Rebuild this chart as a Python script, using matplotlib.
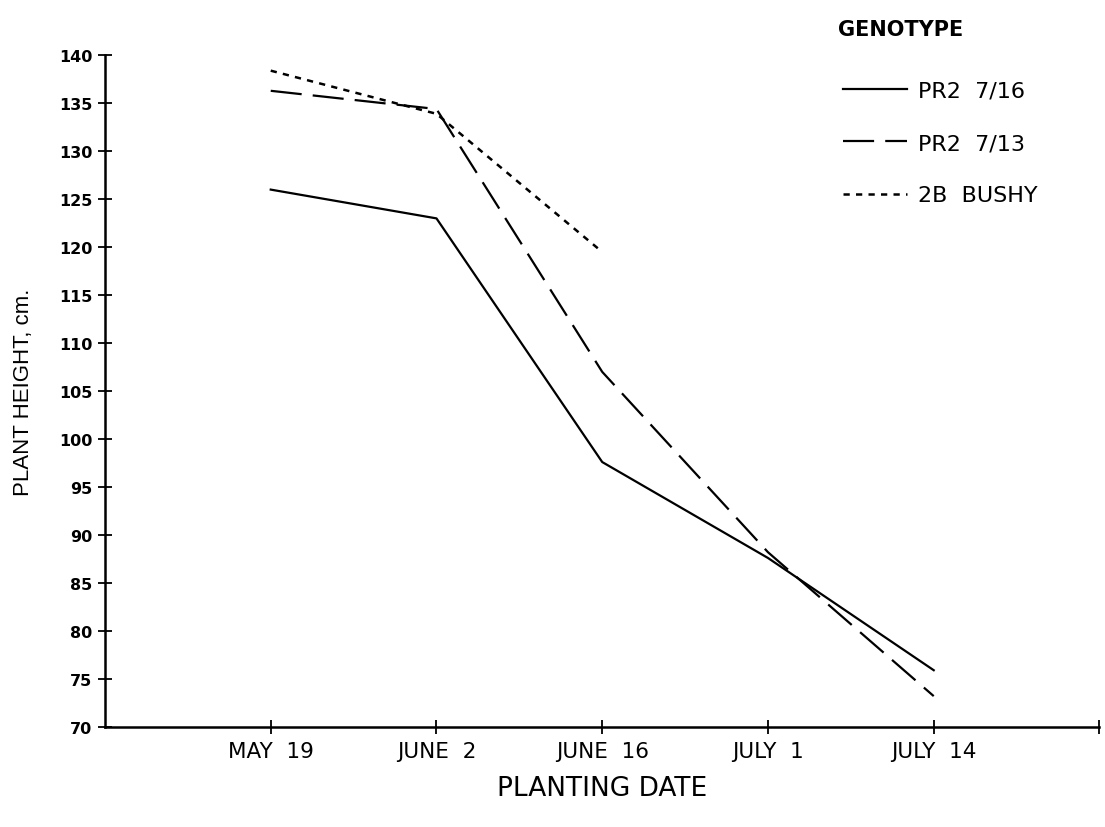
import matplotlib
matplotlib.use('Agg')
import matplotlib.pyplot as plt

dates = ['MAY  19', 'JUNE  2', 'JUNE  16', 'JULY  1', 'JULY  14']
pr2_716 = [126.0, 123.0, 97.6, 87.6, 75.9]
pr2_713 = [136.3, 134.4, 107.0, 88.2, 73.2]
bushy_2b = [138.4, 133.9, 119.5]
y_ticks = list(range(70, 141, 5))

plt.rcParams['font.family'] = ['DejaVu Sans']

fig = plt.figure(figsize=(11.05, 8.28), dpi=100)
ax = fig.add_axes([0.095, 0.121, 0.9, 0.811])

x = list(range(1, len(dates) + 1))
ax.plot(x, pr2_716, color='black', lw=1.6, label='PR2  7/16')
ax.plot(x, pr2_713, color='black', lw=1.6, dashes=(14, 5), label='PR2  7/13')
ax.plot(x[:len(bushy_2b)], bushy_2b, color='black', lw=1.8, dashes=(2.5, 2.5),
        label='2B  BUSHY')

ax.set_xlim(0, 6)
ax.set_ylim(70, 140)
ax.set_yticks(y_ticks)
ax.set_yticklabels([str(v) for v in y_ticks], fontsize=11.5, fontweight='bold')
ax.set_xticks(x + [6])
ax.set_xticklabels(dates + [''], fontsize=15.5)
ax.tick_params(axis='both', direction='inout', length=10, width=1.3, color='black')
ax.tick_params(axis='y', pad=4)
ax.tick_params(axis='x', pad=5)

for side in ['top', 'right']:
    ax.spines[side].set_visible(False)
for side in ['left', 'bottom']:
    ax.spines[side].set_linewidth(1.8)

ax.set_xlabel('PLANTING DATE', fontsize=19, labelpad=10)
ax.set_ylabel('PLANT HEIGHT, cm.', fontsize=16,
              family=['Liberation Sans Narrow', 'Liberation Sans'], labelpad=18)

fig.text(838 / 1105, 1 - 30 / 828, 'GENOTYPE', fontsize=15, fontweight='bold',
         va='center', ha='left')
ax.legend(frameon=False, loc='upper left', bbox_transform=fig.transFigure,
          bbox_to_anchor=(834 / 1105, 1 - 73 / 828), borderaxespad=0,
          fontsize=16, handlelength=2.9, handletextpad=0.5, labelspacing=1.45)

fig.savefig('out.png', dpi=100)
